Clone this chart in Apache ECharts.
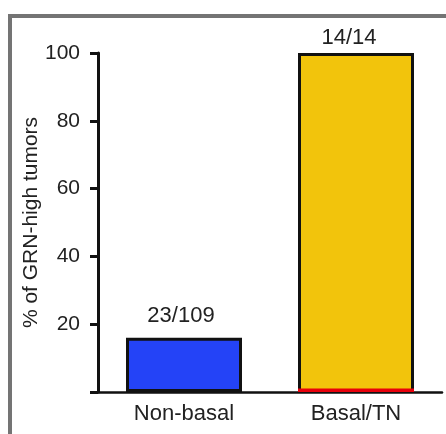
<!DOCTYPE html>
<html>
<head>
<meta charset="utf-8">
<script src="https://cdn.jsdelivr.net/npm/echarts@6/dist/echarts.min.js"></script>
<style>html,body{margin:0;padding:0;background:#fff}#c{width:446px;height:434px}</style>
</head>
<body>
<div id="c"></div>
<script>
var categories = ['Non-basal', 'Basal/TN'];
var percentValues = [16, 100];
var redBaseValues = ['-', 1];
var countLabels = ['23/109', '14/14'];
var barColors = ['#2443f7', '#f2c40c'];
var yTicks = [0, 20, 40, 60, 80, 100];

var chart = echarts.init(document.getElementById('c'), null, {renderer: 'canvas'});
var font = 'Liberation Sans, Arial, sans-serif';
var labelStyles = [
  {distance: 11, offset: [-3, 0]},
  {distance: 4, offset: [-7, 0]}
];
chart.setOption({
  animation: false,
  backgroundColor: '#ffffff',
  graphic: [{
    type: 'rect',
    shape: {x: 10, y: 16, width: 480, height: 480},
    style: {fill: 'none', stroke: '#747474', lineWidth: 4},
    silent: true
  }],
  grid: {left: 98, right: 4, top: 53, bottom: 42},
  xAxis: {
    type: 'category',
    data: categories,
    axisLine: {lineStyle: {color: '#111', width: 2.5}},
    axisTick: {alignWithLabel: true, length: 10, lineStyle: {color: '#444', width: 2}},
    axisLabel: {fontSize: 22, fontFamily: font, color: '#222', margin: 11}
  },
  yAxis: {
    type: 'value',
    min: yTicks[0],
    max: yTicks[yTicks.length - 1],
    interval: 20,
    name: '% of GRN-high tumors',
    nameLocation: 'middle',
    nameGap: 56,
    nameMoveOverlap: false,
    nameTextStyle: {fontSize: 21, fontFamily: font, color: '#222'},
    splitLine: {show: false},
    axisLine: {show: true, lineStyle: {color: '#111', width: 3}},
    axisTick: {show: true, length: 8, lineStyle: {color: '#111', width: 3}},
    axisLabel: {
      fontSize: 21, fontFamily: font, color: '#222', margin: 18,
      formatter: function (v) { return v === 0 ? '' : String(v); }
    }
  },
  series: [{
    type: 'bar',
    barWidth: 116,
    barGap: '-100%',
    data: percentValues.map(function (v, i) {
      return {
        value: v,
        itemStyle: {color: barColors[i], borderColor: '#111', borderWidth: 3},
        label: {
          show: true, position: 'top', formatter: countLabels[i],
          fontSize: 22, fontFamily: font, color: '#222',
          distance: labelStyles[i].distance, offset: labelStyles[i].offset
        }
      };
    }),
    z: 2
  }, {
    type: 'bar',
    barWidth: 116,
    barGap: '-100%',
    data: redBaseValues,
    itemStyle: {color: '#e8000b'},
    z: 3
  }]
});
</script>
</body>
</html>
